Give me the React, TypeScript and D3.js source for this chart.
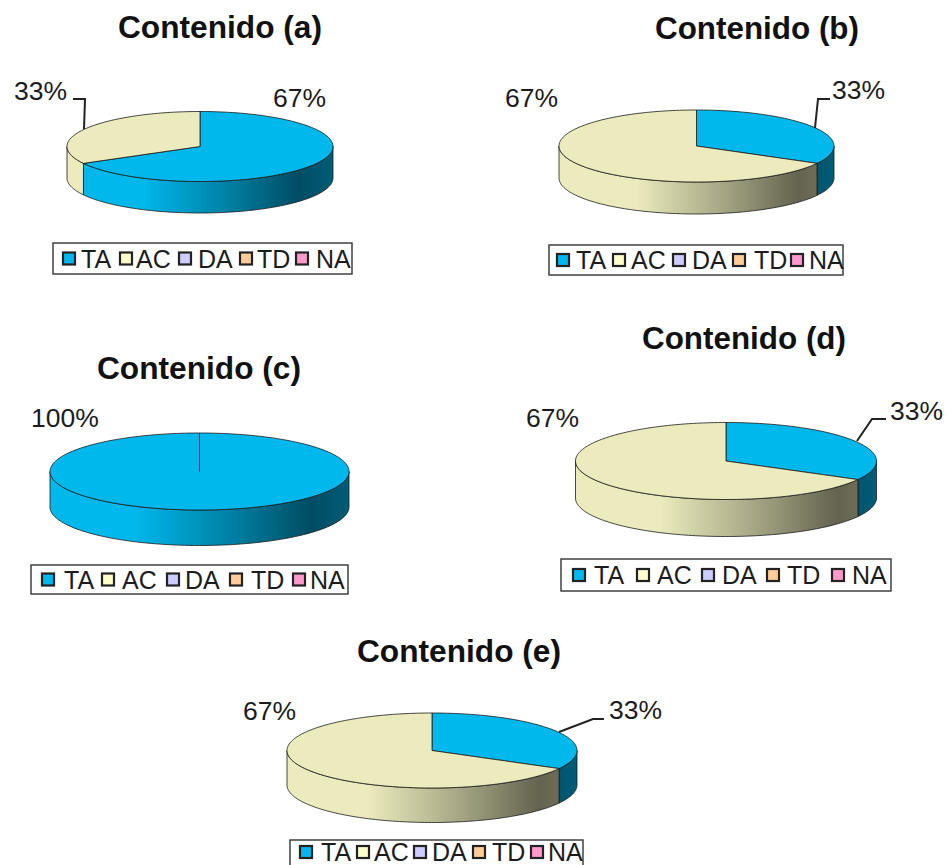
import React from "react";
import * as d3 from "d3";

// Response categories and their colours
const categories = ["TA", "AC", "DA", "TD", "NA"];
const topColors = ["#00B8EC", "#EBEBBD", "#CCCCFF", "#FFCC99", "#FF99CC"];
const swatchColors = ["#00B8F0", "#FFFFCC", "#CCCCFF", "#FFCC99", "#FF99CC"];

// Percentage of answers per category, one list per content block
const contenidoA = [67, 33, 0, 0, 0];
const contenidoB = [33, 67, 0, 0, 0];
const contenidoC = [100, 0, 0, 0, 0];
const contenidoD = [33, 67, 0, 0, 0];
const contenidoE = [33, 67, 0, 0, 0];

const titles = ["Contenido (a)", "Contenido (b)", "Contenido (c)", "Contenido (d)", "Contenido (e)"];

type Panel = {
  id: string;
  values: number[];
  title: string;
  titleAt: [number, number];
  pie: { cx: number; cy: number; rx: number; ry: number; depth: number };
  labels: { cat: number; x: number; y: number; leader?: [number, number][] }[];
  legend: { x0: number; x1: number; y0: number; y1: number; squares: number[]; texts: number[] };
};

const panels: Panel[] = [
  {
    id: "a",
    values: contenidoA,
    title: titles[0],
    titleAt: [118, 38],
    pie: { cx: 200, cy: 146.5, rx: 133, ry: 35, depth: 31.5 },
    labels: [
      { cat: 0, x: 273, y: 107 },
      { cat: 1, x: 14, y: 100, leader: [[73, 99], [85, 99], [84, 129]] },
    ],
    legend: { x0: 53, x1: 352, y0: 243, y1: 274, squares: [63, 120, 179, 240, 296], texts: [81, 136, 198, 257, 316] },
  },
  {
    id: "b",
    values: contenidoB,
    title: titles[1],
    titleAt: [655, 39],
    pie: { cx: 696.5, cy: 146, rx: 137.5, ry: 36, depth: 32 },
    labels: [
      { cat: 1, x: 505, y: 107 },
      { cat: 0, x: 832, y: 99, leader: [[830, 99], [818, 99], [815, 128]] },
    ],
    legend: { x0: 549, x1: 843, y0: 245, y1: 275, squares: [557, 613, 673, 733, 791], texts: [576, 631, 692, 754, 809] },
  },
  {
    id: "c",
    values: contenidoC,
    title: titles[2],
    titleAt: [97, 379],
    pie: { cx: 199.5, cy: 471.5, rx: 149.5, ry: 38.5, depth: 35.5 },
    labels: [{ cat: 0, x: 31, y: 427 }],
    legend: { x0: 31, x1: 348, y0: 565, y1: 594, squares: [42, 102, 167, 230, 293], texts: [64, 122, 185, 251, 310] },
  },
  {
    id: "d",
    values: contenidoD,
    title: titles[3],
    titleAt: [642, 349],
    pie: { cx: 726, cy: 461, rx: 150.5, ry: 38.5, depth: 37 },
    labels: [
      { cat: 1, x: 526, y: 427 },
      { cat: 0, x: 890, y: 420, leader: [[886, 419], [872, 419], [857, 441]] },
    ],
    legend: { x0: 561, x1: 891, y0: 559, y1: 591, squares: [573, 637, 702, 767, 832], texts: [594, 657, 722, 787, 852] },
  },
  {
    id: "e",
    values: contenidoE,
    title: titles[4],
    titleAt: [357, 662],
    pie: { cx: 432, cy: 750.5, rx: 145, ry: 37.5, depth: 34.5 },
    labels: [
      { cat: 1, x: 243, y: 720 },
      { cat: 0, x: 609, y: 719, leader: [[604, 719], [593, 719], [559, 732]] },
    ],
    legend: { x0: 290, x1: 583, y0: 840, y1: 880, squares: [300, 357, 414, 473, 531], texts: [321, 374, 432, 492, 548] },
  },
];

// Shading applied across the rim of a pie, from its left edge to its right edge
const rimShade: [number, number][] = [[0, 1], [0.28, 1], [0.6, 0.7], [0.87, 0.42], [1, 0.5]];

const FONT = "'Liberation Sans', Arial, sans-serif";
const INK = "#1c1c1c";

const pieLayout = d3.pie<number>().sort(null).value((d) => d);
const linePath = d3.line<[number, number]>();

function shade(color: string, k: number) {
  const c = d3.rgb(color);
  return d3.rgb(c.r * k, c.g * k, c.b * k).formatHex();
}

function Pie3D({ panel }: { panel: Panel }) {
  const { cx, cy, rx, ry, depth } = panel.pie;
  const x = d3.scaleLinear().domain([-1, 1]).range([cx - rx, cx + rx]);
  const y = d3.scaleLinear().domain([-1, 1]).range([cy - ry, cy + ry]);
  // Angles run clockwise from twelve o'clock
  const at = (a: number, dy = 0): [number, number] => [x(Math.sin(a)), y(-Math.cos(a)) + dy];
  const rim = (a0: number, a1: number, dy = 0): [number, number][] => {
    const n = Math.max(2, Math.ceil(Math.abs(a1 - a0) * 40));
    return d3.range(n + 1).map((i) => at(a0 + ((a1 - a0) * i) / n, dy));
  };
  const arcs = pieLayout(panel.values).filter((s) => s.value > 0);

  return (
    <g>
      <defs>
        {arcs.map((s) => (
          <linearGradient
            key={s.index}
            id={`rim-${panel.id}-${s.index}`}
            gradientUnits="userSpaceOnUse"
            x1={cx - rx}
            x2={cx + rx}
            y1={0}
            y2={0}
          >
            {rimShade.map(([o, k]) => (
              <stop key={o} offset={o} stopColor={shade(topColors[s.index], k)} />
            ))}
          </linearGradient>
        ))}
      </defs>
      {arcs.map((s) => {
        const a0 = Math.max(s.startAngle, Math.PI / 2);
        const a1 = Math.min(s.endAngle, (3 * Math.PI) / 2);
        if (a1 <= a0) return null;
        const pts = [...rim(a0, a1), ...rim(a1, a0, depth)];
        return (
          <path
            key={s.index}
            d={linePath(pts)! + "Z"}
            fill={`url(#rim-${panel.id}-${s.index})`}
            stroke={INK}
            strokeOpacity={0.8}
            strokeWidth={1}
            strokeLinejoin="round"
          />
        );
      })}
      {arcs.map((s) => {
        const pts: [number, number][] = [[cx, cy], ...rim(s.startAngle, s.endAngle)];
        return (
          <path
            key={s.index}
            d={linePath(pts)! + "Z"}
            fill={topColors[s.index]}
            stroke={INK}
            strokeOpacity={0.8}
            strokeWidth={1}
            strokeLinejoin="round"
          />
        );
      })}
    </g>
  );
}

function Legend({ panel }: { panel: Panel }) {
  const { x0, x1, y0, y1, squares, texts } = panel.legend;
  const mid = panel.id === "e" ? 852 : (y0 + y1) / 2;
  return (
    <g>
      <rect x={x0} y={y0} width={x1 - x0} height={y1 - y0} fill="#fff" stroke="#333" strokeWidth={1.4} />
      {categories.map((c, i) => (
        <g key={c}>
          <rect
            x={squares[i]}
            y={mid - 6}
            width={12}
            height={12}
            fill={swatchColors[i]}
            stroke="#222"
            strokeWidth={2.2}
          />
          <text x={texts[i]} y={mid + 9} fontFamily={FONT} fontSize={25} fill={INK}>
            {c}
          </text>
        </g>
      ))}
    </g>
  );
}

function Block({ panel }: { panel: Panel }) {
  return (
    <g>
      <text
        x={panel.titleAt[0]}
        y={panel.titleAt[1]}
        fontFamily={FONT}
        fontWeight={700}
        fontSize={30.5}
        textLength={204}
        lengthAdjust="spacingAndGlyphs"
        fill="#111"
      >
        {panel.title}
      </text>
      <Pie3D panel={panel} />
      {panel.labels.map((l) => (
        <g key={l.cat}>
          {l.leader && (
            <path d={linePath(l.leader)!} fill="none" stroke="#222" strokeWidth={2} />
          )}
          <text x={l.x} y={l.y} fontFamily={FONT} fontSize={26.5} fill={INK}>
            {panel.values[l.cat]}%
          </text>
        </g>
      ))}
      <Legend panel={panel} />
    </g>
  );
}

export default function App() {
  return (
    <svg
      width={947}
      height={865}
      viewBox="0 0 947 865"
      style={{ position: "fixed", left: 0, top: 0, background: "#fff" }}
    >
      {panels.map((p) => (
        <Block key={p.id} panel={p} />
      ))}
    </svg>
  );
}
